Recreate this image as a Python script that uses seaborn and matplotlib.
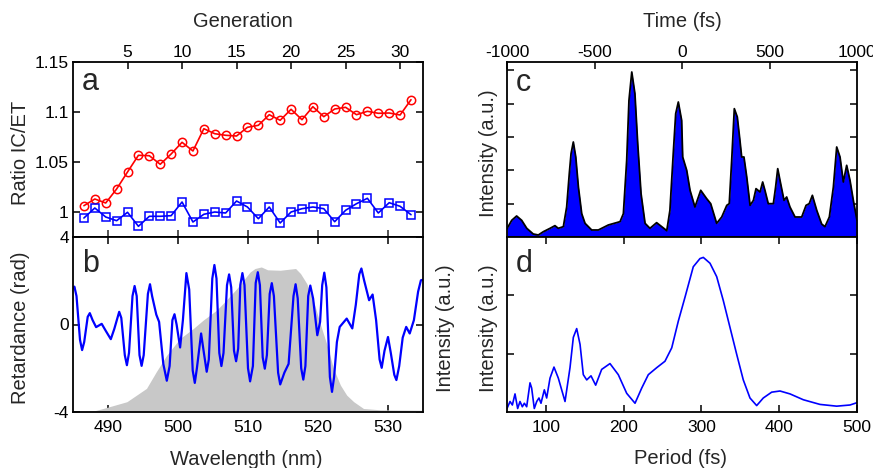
import numpy as np
import pandas as pd
import matplotlib
matplotlib.use("Agg")
import matplotlib.pyplot as plt
import seaborn as sns

# ---------------- data ----------------
generation = list(range(1, 32))
ratio_red = [1.0063, 1.013, 1.009, 1.023, 1.040, 1.0567, 1.0563, 1.0477, 1.058, 1.0697,
             1.061, 1.0833, 1.0783, 1.0767, 1.076, 1.0847, 1.0867, 1.0973, 1.0917, 1.1027,
             1.0923, 1.1053, 1.0953, 1.103, 1.1047, 1.0973, 1.1007, 1.0987, 1.099, 1.097, 1.1123]
ratio_blue = [0.994, 1.004, 0.995, 0.9913, 0.9997, 0.9857, 0.9957, 0.9957, 0.9963, 1.010,
              0.990, 0.9977, 1.000, 0.999, 1.011, 1.005, 0.9933, 1.005, 0.989, 1.000,
              1.0033, 1.005, 1.0033, 0.9903, 1.0017, 1.0083, 1.0137, 0.999, 1.0093, 1.0057, 0.9973]

ret_wl = [485.0, 485.2, 485.5, 486.0, 486.3, 486.6, 487.1, 487.4, 487.8, 488.3, 489.1, 489.7,
          490.4, 490.9, 491.6, 491.9, 492.4, 492.7, 493.0, 493.5, 493.8, 494.1, 494.5, 494.8,
          495.1, 495.7, 496.0, 496.3, 496.9, 497.3, 497.9, 498.4, 498.8, 499.2, 499.5, 499.8,
          500.3, 500.7, 501.2, 501.6, 502.1, 502.4, 502.7, 503.3, 503.7, 504.1, 504.4, 504.9,
          505.2, 505.5, 505.9, 506.2, 506.5, 507.0, 507.3, 507.6, 508.0, 508.3, 508.6, 508.9,
          509.2, 509.5, 510.0, 510.3, 510.7, 511.1, 511.4, 511.7, 512.1, 512.4, 512.7, 513.1,
          513.4, 513.7, 514.3, 514.6, 515.2, 515.8, 516.5, 516.8, 517.1, 517.6, 517.9, 518.2,
          518.6, 518.9, 519.3, 519.9, 520.3, 520.6, 520.9, 521.2, 521.7, 522.0, 522.3, 522.7,
          523.1, 524.1, 524.9, 525.4, 525.9, 526.2, 526.6, 527.3, 527.8, 528.3, 528.8, 529.1,
          529.5, 530.0, 530.4, 530.9, 531.2, 531.6, 532.1, 532.6, 533.1, 533.7, 534.3, 534.7,
          535.0]
ret_val = [1.65, 1.73, 1.3, -0.7, -1.17, -0.8, 0.35, 0.52, 0.2, -0.12, 0.03, -0.3,
           -0.67, -0.2, 0.58, 0.3, -1.4, -1.86, -1.3, 1.3, 1.76, 1.3, -1.4, -1.89,
           -1.4, 1.4, 1.84, 1.3, 0.45, 0.12, -1.8, -2.57, -1.9, 0.2, 0.47, 0.0,
           -1.05, 0.2, 2.35, 1.6, -2.1, -2.67, -2.0, -0.41, -1.3, -2.16, -1.6, 2.1,
           2.72, 2.1, -1.3, -1.9, -1.3, 1.8, 2.29, 1.7, -1.2, -1.68, -1.1, 1.8,
           2.35, 1.8, -2.0, -2.6, -1.9, 1.9, 2.39, 1.8, -1.5, -2.02, -1.4, 1.4,
           1.89, 1.3, -2.2, -2.74, -2.2, -1.8, 1.3, 1.84, 1.2, -2.0, -2.52, -1.9,
           1.3, 1.78, 1.19, -0.49, 0.12, 1.8, 2.37, 1.7, -2.4, -3.08, -2.4, -0.8,
           -0.11, 0.27, -0.18, 0.9, 2.3, 2.56, 2.0, 1.11, 1.37, 0.2, -1.6, -1.98,
           -1.2, -0.57, -1.3, -2.3, -2.54, -1.9, -0.6, -0.11, -0.41, 0.2, 1.5, 2.02,
           2.05]

spec_wl = [485.0, 488.0, 489.3, 492.7, 495.5, 496.9, 498.4, 500.3, 502.2, 503.6, 505.5, 506.9,
           508.4, 510.3, 511.0, 511.9, 512.8, 514.6, 516.8, 517.5, 518.4, 519.4, 520.3, 521.3,
           522.2, 523.2, 524.1, 525.1, 526.5, 528.9, 535.0]
spec_val = [-4.0, -3.95, -3.84, -3.53, -2.92, -2.16, -1.4, -0.64, -0.18, 0.2, 0.65, 1.11,
            1.64, 2.4, 2.56, 2.63, 2.5, 2.48, 2.56, 2.33, 1.87, 1.03, 0.05, -0.95,
            -2.0, -2.77, -3.23, -3.53, -3.84, -3.9, -3.92]

time_fs = [-1000, -973, -945, -916, -887, -850, -821, -792, -754, -726, -707, -678, -659, -644,
           -634, -621, -607, -592, -573, -554, -516, -478, -421, -354, -335, -316, -303, -287,
           -269, -253, -234, -211, -183, -145, -116, -87, -69, -50, -36, -21, -2, 4, 27, 46,
           74, 107, 141, 164, 198, 227, 256, 270, 284, 299, 316, 331, 341, 354, 370, 389,
           408, 423, 446, 461, 474, 493, 522, 535, 547, 560, 583, 598, 617, 646, 684, 709,
           727, 745, 770, 798, 817, 842, 865, 884, 903, 922, 941, 960, 979, 1000]
time_int = [0.05, 0.10, 0.126, 0.10, 0.052, 0.018, 0.012, 0.032, 0.052, 0.068, 0.052, 0.062,
            0.18, 0.38, 0.50, 0.57, 0.48, 0.30, 0.14, 0.082, 0.042, 0.042, 0.072, 0.092,
            0.14, 0.46, 0.82, 0.99, 0.86, 0.56, 0.26, 0.082, 0.052, 0.086, 0.062, 0.038,
            0.16, 0.50, 0.74, 0.81, 0.70, 0.48, 0.40, 0.28, 0.18, 0.28, 0.23, 0.20,
            0.082, 0.12, 0.19, 0.20, 0.46, 0.77, 0.72, 0.58, 0.48, 0.48, 0.36, 0.19,
            0.22, 0.29, 0.27, 0.33, 0.28, 0.20, 0.20, 0.30, 0.41, 0.34, 0.22, 0.24,
            0.18, 0.12, 0.12, 0.19, 0.20, 0.25, 0.16, 0.078, 0.062, 0.12, 0.30, 0.54,
            0.48, 0.33, 0.43, 0.34, 0.22, 0.10]

period_fs = [50.0, 53.9, 56.9, 60.3, 63.7, 66.7, 69.7, 72.3, 75.3, 79.6, 81.7, 85.1, 88.2,
             91.1, 93.7, 98.0, 101.0, 105.3, 110.4, 116.0, 124.6, 131.0, 135.3, 139.6, 143.9,
             148.1, 152.5, 158.0, 164.0, 171.7, 182.4, 193.1, 203.9, 214.6, 223.2, 231.7,
             242.5, 253.1, 261.8, 270.3, 278.9, 289.5, 298.1, 302.4, 311.0, 319.6, 328.1,
             336.7, 345.3, 353.8, 362.4, 371.0, 379.5, 390.3, 401.0, 413.9, 431.0, 452.4,
             473.9, 491.0, 500.0]
period_int = [0.06, 0.18, 0.12, 0.31, 0.06, 0.18, 0.09, 0.15, 0.09, 0.50, 0.41, 0.06, 0.18,
              0.24, 0.15, 0.38, 0.24, 0.58, 0.77, 0.58, 0.18, 0.76, 1.28, 1.43, 1.16,
              0.64, 0.55, 0.62, 0.46, 0.73, 0.83, 0.64, 0.32, 0.15, 0.41, 0.64,
              0.76, 0.87, 1.10, 1.56, 1.97, 2.49, 2.63, 2.65, 2.55, 2.32, 1.91,
              1.45, 0.99, 0.55, 0.24, 0.11, 0.24, 0.34, 0.36, 0.31, 0.21, 0.13,
              0.10, 0.12, 0.16]

wl_ticks = [490, 500, 510, 520, 530]
gen_ticks = [5, 10, 15, 20, 25, 30]
ratio_ticks = [1.0, 1.05, 1.1, 1.15]
ratio_ticklabels = ["1", "1.05", "1.1", "1.15"]
ret_ticks = [-4, 0, 4]
time_ticks = [-1000, -500, 0, 500, 1000]
period_ticks = [100, 200, 300, 400, 500]

# ---------------- style ----------------
sns.set_theme(style="white")
plt.rcParams["font.family"] = ["Liberation Sans", "DejaVu Sans"]
plt.rcParams["axes.unicode_minus"] = False
plt.rcParams["axes.edgecolor"] = "black"
plt.rcParams["axes.linewidth"] = 1.3

TICK_FS = 12.5
LAB_FS = 14.5
LET_FS = 22
BLUE = "#0000ff"

fig = plt.figure(figsize=(8.73, 4.68), dpi=100)
W, H = 873.0, 468.0
def rect(l, t, w, h):
    return [l / W, 1 - (t + h) / H, w / W, h / H]

ax_a = fig.add_axes(rect(73, 62, 350, 175))
ax_b = fig.add_axes(rect(73, 237, 350, 175))
ax_c = fig.add_axes(rect(507, 62, 350, 175))
ax_d = fig.add_axes(rect(507, 237, 350, 175))

def base_ticks(ax):
    ax.tick_params(direction="in", length=5, width=1.1, colors="black",
                   labelsize=TICK_FS, pad=3)

# ---------------- panel a ----------------
gmin, gmax = 0.0, 32.1
wmin, wmax = 485.0, 535.0
df_a = pd.DataFrame({"gen": generation, "red": ratio_red, "blue": ratio_blue})
sns.lineplot(data=df_a, x="gen", y="red", ax=ax_a, color="red", lw=1.2,
             marker="o", markersize=6, markerfacecolor="none",
             markeredgecolor="red", markeredgewidth=1.1)
sns.lineplot(data=df_a, x="gen", y="blue", ax=ax_a, color=BLUE, lw=1.2,
             marker="s", markersize=5.2, markerfacecolor="none",
             markeredgecolor=BLUE, markeredgewidth=1.1)
ax_a.set_xlim(gmin, gmax)
ax_a.set_ylim(0.975, 1.15)
base_ticks(ax_a)
ax_a.xaxis.tick_top()
ax_a.set_xticks(gen_ticks)
ax_a.tick_params(axis="x", top=True, bottom=False, labeltop=True, labelbottom=False, pad=1.5)
ax_a.set_yticks(ratio_ticks)
ax_a.set_yticklabels(ratio_ticklabels)
ax_a.tick_params(axis="y", left=True, right=True)
g2w = lambda g: wmin + (np.asarray(g) - gmin) * (wmax - wmin) / (gmax - gmin)
w2g = lambda w: gmin + (np.asarray(w) - wmin) * (gmax - gmin) / (wmax - wmin)
sec_a = ax_a.secondary_xaxis("bottom", functions=(g2w, w2g))
sec_a.set_xticks(wl_ticks)
sec_a.tick_params(direction="in", length=5, width=1.1, labelbottom=False)
ax_a.xaxis.set_label_position("top")
ax_a.set_xlabel("Generation", fontsize=LAB_FS)
ax_a.xaxis.set_label_coords(0.486, 1.229)
ax_a.xaxis.label.set_verticalalignment("center")
ax_a.set_ylabel("Ratio IC/ET", fontsize=LAB_FS)
ax_a.yaxis.set_label_coords(-0.151, 0.48)
ax_a.yaxis.label.set_verticalalignment("center")
ax_a.text(0.026, 0.84, "a", transform=ax_a.transAxes, fontsize=LET_FS,
          ha="left", va="baseline")

# ---------------- panel b ----------------
ax_b.fill_between(spec_wl, spec_val, -4, color="#c8c8c8", lw=0)
df_b = pd.DataFrame({"wl": ret_wl, "ret": ret_val})
sns.lineplot(data=df_b, x="wl", y="ret", ax=ax_b, color=BLUE, lw=1.6,
             solid_joinstyle="round")
ax_b.set_xlim(wmin, wmax)
ax_b.set_ylim(-4, 4)
base_ticks(ax_b)
ax_b.set_xticks(wl_ticks)
ax_b.set_yticks(ret_ticks)
ax_b.tick_params(axis="x", top=True, bottom=True, pad=6)
ax_b.tick_params(axis="y", left=True, right=True)
ax_b.set_xlabel("Wavelength (nm)", fontsize=LAB_FS)
ax_b.xaxis.set_label_coords(0.494, -0.274)
ax_b.xaxis.label.set_verticalalignment("center")
ax_b.set_ylabel("Retardance (rad)", fontsize=LAB_FS)
ax_b.yaxis.set_label_coords(-0.151, 0.48)
ax_b.yaxis.label.set_verticalalignment("center")
ax_b.text(0.026, 0.8, "b", transform=ax_b.transAxes, fontsize=LET_FS,
          ha="left", va="baseline")

# ---------------- panel c ----------------
ax_c.fill_between(time_fs, time_int, 0, color=BLUE, lw=0)
ax_c.plot(time_fs, time_int, color="black", lw=1.3)
ax_c.set_xlim(-1000, 1000)
ax_c.set_ylim(0, 1.05)
base_ticks(ax_c)
ax_c.xaxis.tick_top()
ax_c.set_xticks(time_ticks)
ax_c.tick_params(axis="x", top=True, bottom=False, labeltop=True, labelbottom=False, pad=1.5)
ax_c.set_yticks([0.2, 0.4, 0.6, 0.8, 1.0])
ax_c.tick_params(axis="y", left=True, right=True, labelleft=False)
pmin, pmax = 50.0, 500.0
t2p = lambda t: pmin + (np.asarray(t) + 1000) * (pmax - pmin) / 2000.0
p2t = lambda p: -1000 + (np.asarray(p) - pmin) * 2000.0 / (pmax - pmin)
sec_c = ax_c.secondary_xaxis("bottom", functions=(t2p, p2t))
sec_c.set_xticks(period_ticks)
sec_c.tick_params(direction="in", length=5, width=1.1, labelbottom=False)
ax_c.xaxis.set_label_position("top")
ax_c.set_xlabel("Time (fs)", fontsize=LAB_FS)
ax_c.xaxis.set_label_coords(0.5, 1.229)
ax_c.xaxis.label.set_verticalalignment("center")
ax_c.set_ylabel("Intensity (a.u.)", fontsize=LAB_FS)
ax_c.yaxis.set_label_coords(-0.054, 0.48)
ax_c.yaxis.label.set_verticalalignment("center")
ax_c.text(0.026, 0.834, "c", transform=ax_c.transAxes, fontsize=LET_FS,
          ha="left", va="baseline")

# ---------------- panel d ----------------
df_d = pd.DataFrame({"period": period_fs, "inten": period_int})
sns.lineplot(data=df_d, x="period", y="inten", ax=ax_d, color=BLUE, lw=1.2,
             solid_joinstyle="round")
ax_d.set_xlim(pmin, pmax)
ax_d.set_ylim(0, 3)
base_ticks(ax_d)
ax_d.set_xticks(period_ticks)
ax_d.tick_params(axis="x", top=True, bottom=True, pad=6)
ax_d.set_yticks([1, 2])
ax_d.tick_params(axis="y", left=True, right=True, labelleft=False)
ax_d.set_xlabel("Period (fs)", fontsize=LAB_FS)
ax_d.xaxis.set_label_coords(0.497, -0.263)
ax_d.xaxis.label.set_verticalalignment("center")
ax_d.set_ylabel("Intensity (a.u.)", fontsize=LAB_FS)
ax_d.yaxis.set_label_coords(-0.054, 0.48)
ax_d.yaxis.label.set_verticalalignment("center")
ax_d.text(-0.177, 0.48, "Intensity (a.u.)", transform=ax_d.transAxes,
          fontsize=LAB_FS, rotation=90, ha="center", va="center")
ax_d.text(0.026, 0.8, "d", transform=ax_d.transAxes, fontsize=LET_FS,
          ha="left", va="baseline")

for ax in (ax_a, ax_b, ax_c, ax_d):
    for s in ax.spines.values():
        s.set_visible(True)
        s.set_color("black")
        s.set_linewidth(1.3)
    leg = ax.get_legend()
    if leg is not None:
        leg.remove()

fig.savefig("out.png", dpi=100)
